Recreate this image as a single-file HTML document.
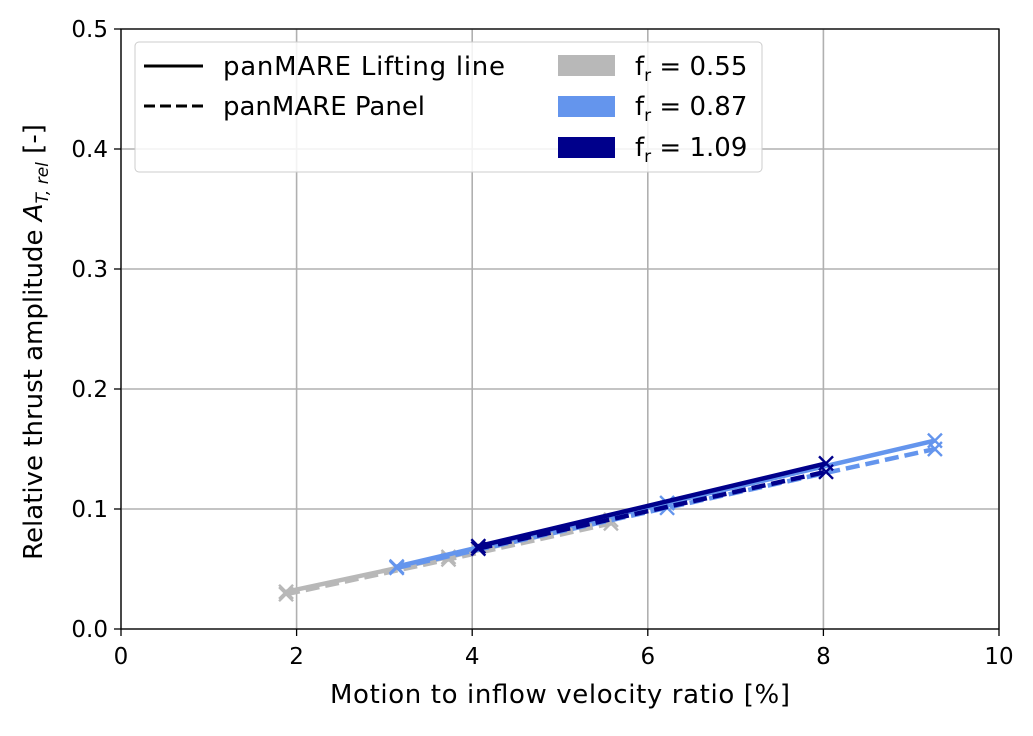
<!DOCTYPE html>
<html><head><meta charset="utf-8"><style>
body{margin:0;background:#fff}
svg text{font-family:"DejaVu Sans","Liberation Sans",sans-serif;fill:#000}
</style></head><body>
<svg id="c" width="1033" height="731" xmlns="http://www.w3.org/2000/svg">
<g id="grid"></g>
<g id="series"></g>
<rect x="121" y="29" width="878" height="600" fill="none" stroke="#000" stroke-width="1.3"/>
<g id="ticks"></g>
<text x="560" y="703" font-size="26" text-anchor="middle" textLength="460">Motion to inflow velocity ratio [%]</text>
<text transform="translate(42,342) rotate(-90)" font-size="26" text-anchor="middle">Relative thrust amplitude <tspan font-style="italic">A</tspan><tspan font-style="italic" font-size="17" dy="6">T, rel</tspan><tspan dy="-6"> [-]</tspan></text>
<g>
<rect x="135" y="42" width="627" height="130" rx="4" fill="#fff" fill-opacity="0.85" stroke="#ccc" stroke-width="1"/>
<line x1="144" y1="66" x2="203" y2="66" stroke="#000" stroke-width="3"/>
<text x="223" y="75" font-size="26" textLength="282">panMARE Lifting line</text>
<line x1="144" y1="106" x2="203" y2="106" stroke="#000" stroke-width="3" stroke-dasharray="11,5"/>
<text x="223" y="115" font-size="26">panMARE Panel</text>
<rect x="558" y="55" width="57" height="21" fill="#b8b8b8"/>
<text x="635" y="75" font-size="26">f<tspan font-size="17" dy="6">r</tspan><tspan dy="-6"> = 0.55</tspan></text>
<rect x="558" y="96" width="57" height="21" fill="#6495ed"/>
<text x="635" y="115" font-size="26">f<tspan font-size="17" dy="6">r</tspan><tspan dy="-6"> = 0.87</tspan></text>
<rect x="558" y="137" width="57" height="21" fill="#00008b"/>
<text x="635" y="156" font-size="26">f<tspan font-size="17" dy="6">r</tspan><tspan dy="-6"> = 1.09</tspan></text>
</g>
</svg>
<script>
const xTicks=[0,2,4,6,8,10];
const yTicks=[0,0.1,0.2,0.3,0.4,0.5];
const yTickLabels=["0.0","0.1","0.2","0.3","0.4","0.5"];
const xGray=[1.88,3.73,5.58];
const llGray=[0.031,0.060,0.091];
const panGray=[0.029,0.058,0.088];
const xLight=[3.14,6.22,9.27];
const llLight=[0.052,0.105,0.157];
const panLight=[0.051,0.101,0.150];
const xDark=[4.07,8.03];
const llDark=[0.069,0.138];
const panDark=[0.067,0.131];
const NS="http://www.w3.org/2000/svg";
const X=v=>121+v*87.8, Y=v=>629-v*1200;
function mk(p,t,a){const e=document.createElementNS(NS,t);for(const k in a)e.setAttribute(k,a[k]);p.appendChild(e);return e;}
const g=document.getElementById('grid'),tk=document.getElementById('ticks'),s=document.getElementById('series');
xTicks.forEach(v=>{
 const l=mk(g,'line',{x1:X(v),x2:X(v),y1:29,y2:629,stroke:'#b0b0b0','stroke-width':1.6});
 
 
 const m=mk(tk,'line',{x1:X(v),x2:X(v),y1:629,y2:636,stroke:'#000','stroke-width':1.3});
 
 
 const t=mk(tk,'text',{x:X(v),y:664,'font-size':23,'text-anchor':'middle'});t.textContent=v;
 
 
});
yTicks.forEach((v,i)=>{
 const l=mk(g,'line',{x1:121,x2:999,y1:Y(v),y2:Y(v),stroke:'#b0b0b0','stroke-width':1.6});
 
 
 const m=mk(tk,'line',{x1:114,x2:121,y1:Y(v),y2:Y(v),stroke:'#000','stroke-width':1.3});
 
 
 const t=mk(tk,'text',{x:108,y:Y(v)+8,'font-size':23,'text-anchor':'end'});t.textContent=yTickLabels[i];
 
 
});
function series(xs,ys,col,dash,name){
 const grp=mk(s,'g',{});
 
 
 const a={points:xs.map((x,i)=>X(x)+','+Y(ys[i])).join(' '),fill:'none',stroke:col,'stroke-width':4.5};
 if(dash)a['stroke-dasharray']='14,6';
 const p=mk(grp,'polyline',a);
 
 
 xs.forEach((x,i)=>{const cx=X(x),cy=Y(ys[i]),r=7;
  const m=mk(grp,'path',{d:`M${cx-r},${cy-r}L${cx+r},${cy+r}M${cx-r},${cy+r}L${cx+r},${cy-r}`,stroke:col,'stroke-width':2.4,fill:'none'});
  
  
 });
}
series(xGray,panGray,'#b8b8b8',true,'gray-panel');
series(xGray,llGray,'#b8b8b8',false,'gray-lifting-line');
series(xLight,panLight,'#6495ed',true,'lightblue-panel');
series(xLight,llLight,'#6495ed',false,'lightblue-lifting-line');
series(xDark,panDark,'#00008b',true,'darkblue-panel');
series(xDark,llDark,'#00008b',false,'darkblue-lifting-line');
</script>
</body></html>
